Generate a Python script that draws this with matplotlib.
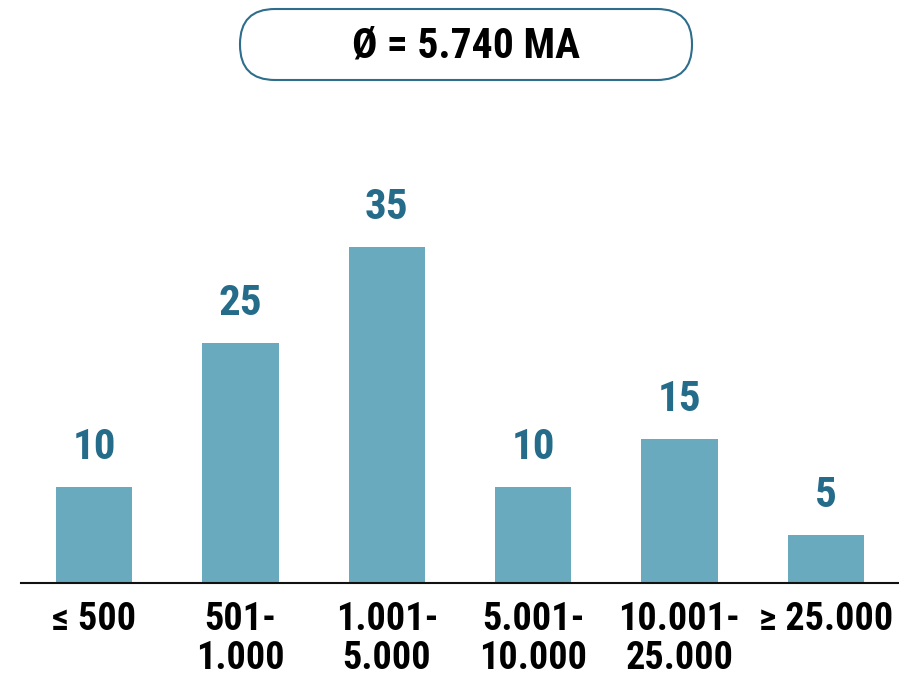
import matplotlib
matplotlib.use("Agg")
import matplotlib.pyplot as plt
from matplotlib.patches import FancyBboxPatch

categories = ["\u2264 500", "501-\n1.000", "1.001-\n5.000", "5.001-\n10.000", "10.001-\n25.000", "\u2265 25.000"]
values = [10, 25, 35, 10, 15, 5]
title_text = "\u00d8 = 5.740 MA"

bar_color = "#6aaabf"
label_color = "#256b8a"
fonts = ["Roboto Condensed", "DejaVu Sans"]

fig = plt.figure(figsize=(8.99, 6.79), dpi=100)

# main bar axes: bottom line at y=583px, bars 9.6 px per unit
ax = fig.add_axes([21 / 899, 96 / 679, 878 / 899, 480 / 679])
x = list(range(len(values)))
ax.bar(x, values, width=0.52, color=bar_color)
ax.set_xlim(-0.5, 5.5)
ax.set_ylim(0, 50)
for xi, v in zip(x, values):
    ax.annotate(str(v), (xi, v), xytext=(0, 20), textcoords="offset points",
                ha="center", va="baseline", fontsize=31, fontweight="bold",
                color=label_color, family=fonts)

for s in ["top", "right", "left"]:
    ax.spines[s].set_visible(False)
ax.spines["bottom"].set_linewidth(1.5)
ax.spines["bottom"].set_color("#111111")
ax.set_yticks([])
ax.set_xticks(x)
ax.set_xticklabels(categories, fontsize=27.5, fontweight="bold", family=fonts,
                   linespacing=1.08)
ax.tick_params(axis="x", length=0, pad=13)

# title pill in pixel coordinates
ov = fig.add_axes([0, 0, 1, 1], facecolor="none")
ov.set_xlim(0, 899)
ov.set_ylim(679, 0)
ov.axis("off")
ov.add_patch(FancyBboxPatch((240, 9), 452, 71,
                            boxstyle="round,pad=0,rounding_size=35",
                            facecolor="white", edgecolor="#2e6e8c", linewidth=1.5))
ov.text(466, 46, title_text, ha="center", va="center", fontsize=30,
        fontweight="bold", color="black", family=fonts)

fig.savefig("out.png", dpi=100)
